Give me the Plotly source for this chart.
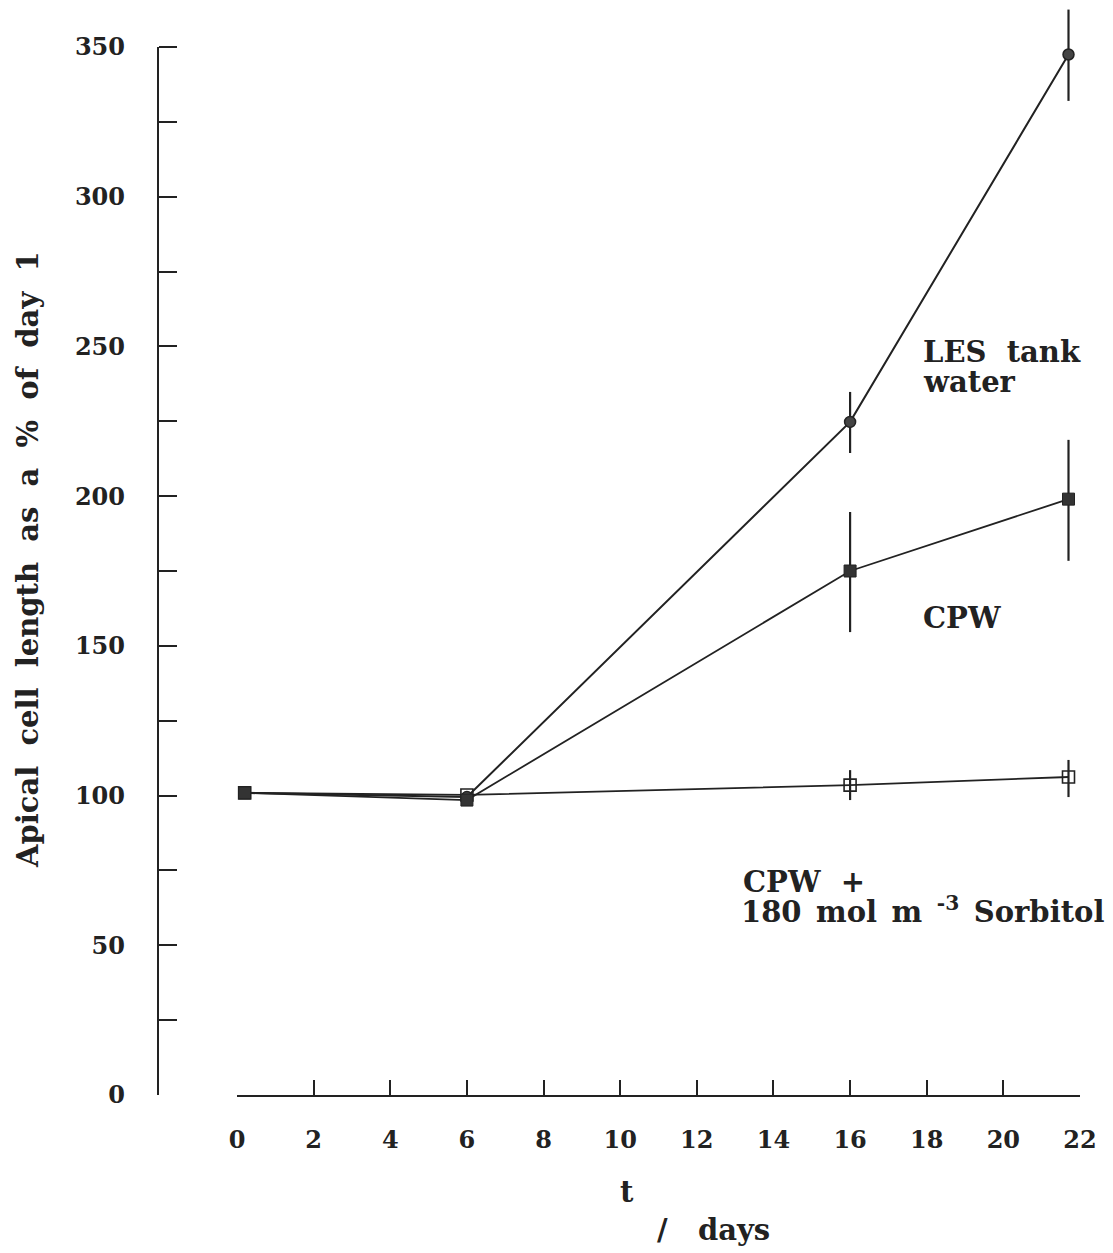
import plotly.graph_objects as go

# page body has an 8px margin, so the figure is drawn 8px in from the window corner
OFF = 8
W, H = 1113 - OFF, 1253 - OFF

days = [0.2, 6, 16, 21.7]

les_vals = [100.9, 99.5, 224.8, 347.5]
les_err_plus = [0, 0, 10.0, 15.0]
les_err_minus = [0, 0, 10.4, 15.5]

cpw_vals = [100.9, 98.5, 175.0, 199.0]
cpw_err_plus = [0, 0, 19.7, 19.8]
cpw_err_minus = [0, 0, 20.4, 20.6]

sorb_vals = [100.9, 100.2, 103.5, 106.2]
sorb_err_plus = [0, 0, 5.0, 5.7]
sorb_err_minus = [0, 0, 5.0, 6.7]

x_ticks = list(range(0, 23, 2))
y_ticks = list(range(0, 351, 25))
y_ticktext = [str(v) if v % 50 == 0 else "" for v in y_ticks]
y_axis_top = 350
y_range_top = 363

FONT = "DejaVu Serif"
INK = "#222222"

def px_x(px):
    return (px - OFF) / W

def px_y(py):
    return (H - (py - OFF)) / H

fig = go.Figure()

fig.add_trace(go.Scatter(
    x=days, y=sorb_vals, mode="lines+markers", cliponaxis=False,
    line=dict(color=INK, width=1.8),
    marker=dict(symbol="square-open", size=12, color=INK, line=dict(width=1.6)),
    error_y=dict(type="data", symmetric=False, array=sorb_err_plus,
                 arrayminus=sorb_err_minus, width=0, thickness=2.2, color=INK),
    showlegend=False))

fig.add_trace(go.Scatter(
    x=days, y=les_vals, mode="lines+markers", cliponaxis=False,
    line=dict(color=INK, width=2),
    marker=dict(symbol="circle", size=11, color="#444444", line=dict(width=1.5, color=INK)),
    error_y=dict(type="data", symmetric=False, array=les_err_plus,
                 arrayminus=les_err_minus, width=0, thickness=2.2, color=INK),
    showlegend=False))

fig.add_trace(go.Scatter(
    x=days, y=cpw_vals, mode="lines+markers", cliponaxis=False,
    line=dict(color=INK, width=1.8),
    marker=dict(symbol="square", size=12, color="#333333", line=dict(width=1, color=INK)),
    error_y=dict(type="data", symmetric=False, array=cpw_err_plus,
                 arrayminus=cpw_err_minus, width=0, thickness=2.2, color=INK),
    showlegend=False))

# y scale: 0 at px 1095, 350 at px 47
per_unit = (1095 - 47) / 350.0
top_px = 1095 - y_range_top * per_unit
y_dom_top = min(1.0, px_y(top_px))

fig.update_layout(
    width=W, height=H,
    margin=dict(l=0, r=0, t=0, b=0),
    paper_bgcolor="white", plot_bgcolor="white",
    font=dict(family=FONT, color=INK),
    xaxis=dict(
        domain=[px_x(237), px_x(1080)], range=[0, 22], anchor="y",
        showline=True, linecolor=INK, linewidth=2,
        ticks="inside", ticklen=15, tickwidth=2, tickcolor=INK,
        tickvals=x_ticks, ticktext=[str(v) for v in x_ticks],
        tickfont=dict(family=FONT, size=24, color=INK, weight="bold"),
        ticklabelstandoff=22,
        showgrid=False, zeroline=False, automargin=False,
    ),
    yaxis=dict(
        domain=[px_y(1095), y_dom_top], range=[0, y_range_top],
        anchor="free", position=px_x(158),
        showline=False,
        ticks="inside", ticklen=18, tickwidth=2, tickcolor=INK,
        tickvals=y_ticks, ticktext=y_ticktext,
        tickfont=dict(family=FONT, size=24, color=INK, weight="bold"),
        ticklabelstandoff=33,
        showgrid=False, zeroline=False, automargin=False,
    ),
)

# y axis line stops at the top tick (350)
fig.add_shape(type="line", xref="paper", yref="y",
              x0=px_x(158), x1=px_x(158), y0=0, y1=y_axis_top,
              line=dict(color=INK, width=2))

SP2 = "\u00a0\u00a0"
EN = "\u2002"

def ann(text, px, py, size=29, xanchor="left", angle=0):
    fig.add_annotation(
        text=text, x=px_x(px), y=px_y(py), xref="paper", yref="paper",
        showarrow=False, xanchor=xanchor, yanchor="middle", textangle=angle,
        font=dict(family=FONT, size=size, color=INK, weight="bold"), align="left",
        borderpad=0)

ann(SP2.join(["Apical", "cell", "length", "as", "a", "%", "of", "day", "1"]),
    28, 560, size=29, xanchor="center", angle=-90)
ann("LES" + SP2 + "tank", 922, 352)
ann("water", 922, 382)
ann("CPW", 922, 618)
ann("CPW" + SP2 + "+", 742, 882)
ann("180" + EN + "mol" + EN + "m" + EN + "<sup>-3</sup>" + EN + "Sorbitol", 740, 910)
ann("t", 627, 1192, xanchor="center")
ann("/" + "\u00a0\u00a0\u00a0" + "days", 656, 1230)

fig.write_html("out.html")
